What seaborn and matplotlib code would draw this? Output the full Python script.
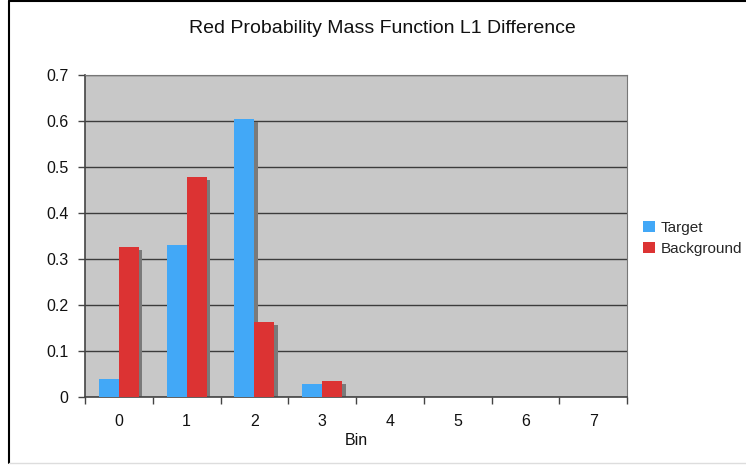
import numpy as np
import pandas as pd
import matplotlib
matplotlib.use("Agg")
import matplotlib.pyplot as plt
import matplotlib.transforms as mtransforms
from matplotlib.patches import Rectangle
from matplotlib.lines import Line2D
import seaborn as sns

bins = ["0", "1", "2", "3", "4", "5", "6", "7"]
target = [0.040, 0.330, 0.604, 0.028, 0.0, 0.0, 0.0, 0.0]
background = [0.327, 0.478, 0.163, 0.035, 0.0, 0.0, 0.0, 0.0]
series_names = ["Target", "Background"]
colors = ["#42a8f7", "#dc3333"]
yticks = [0, 0.1, 0.2, 0.3, 0.4, 0.5, 0.6, 0.7]
ytick_labels = ["0", "0.1", "0.2", "0.3", "0.4", "0.5", "0.6", "0.7"]

df = pd.DataFrame({
    "Bin": bins * 2,
    "value": target + background,
    "Series": [series_names[0]] * len(bins) + [series_names[1]] * len(bins),
})

sns.set_theme(style="white")
plt.rcParams["font.family"] = ["Liberation Sans", "DejaVu Sans"]

fig = plt.figure(figsize=(7.46, 4.67), dpi=100)
ax = fig.add_axes([0.114, 0.150, 0.7265, 0.6894])
ax.set_facecolor("#c8c8c8")

sns.barplot(data=df, x="Bin", y="value", hue="Series", order=bins,
            hue_order=series_names, palette=colors, width=0.59,
            saturation=1, ax=ax, zorder=3, legend=True)

# drop shadows offset to the right/down
offset = mtransforms.ScaledTranslation(3.5 / 100, -3 / 100, fig.dpi_scale_trans)
for p in list(ax.patches):
    if p.get_height() > 0:
        sh = Rectangle(p.get_xy(), p.get_width(), p.get_height(),
                       facecolor="#7a7a7a", edgecolor="none",
                       transform=ax.transData + offset, zorder=2.5)
        sh.set_clip_on(True)
        ax.add_patch(sh)
    p.set_edgecolor("none")

ax.set_xlim(-0.5, len(bins) - 0.5)
ax.set_ylim(0, 0.7)
ax.set_yticks(yticks)
ax.set_yticklabels(ytick_labels)
ax.yaxis.grid(True, color="#3c3c3c", linewidth=1.0, zorder=1)
ax.set_axisbelow(True)

# category boundaries as major ticks, labels at centers as minor
ax.set_xticks(np.arange(-0.5, len(bins), 1.0))
ax.set_xticklabels([])
ax.set_xticks(np.arange(len(bins)), minor=True)
ax.set_xticklabels(bins, minor=True)
ax.tick_params(axis="x", which="major", direction="out", length=5, width=1, color="#444444", bottom=True)
ax.tick_params(axis="x", which="minor", length=0, pad=12, labelsize=11.5, labelcolor="#111111")
ax.tick_params(axis="y", direction="out", length=5, width=1, color="#444444", left=True, labelsize=11.5, labelcolor="#111111", pad=7)

for s in ["left", "bottom"]:
    ax.spines[s].set_color("#444444")
    ax.spines[s].set_linewidth(1.2)
for s in ["right", "top"]:
    ax.spines[s].set_color("#777777")
    ax.spines[s].set_linewidth(0.8)

ax.set_xlabel("Bin", fontsize=11.5, color="#111111", labelpad=3)
ax.set_ylabel("")

fig.text(0.513, 0.94, "Red Probability Mass Function L1 Difference",
         ha="center", va="center", fontsize=14, color="#111111")

leg = ax.legend(loc="center left", bbox_to_anchor=(0.843, 0.49),
                bbox_transform=fig.transFigure, frameon=False,
                handlelength=0.8, handleheight=0.8, handletextpad=0.4,
                labelspacing=0.45, fontsize=11, title=None)

# outer frame (left/top in black, bottom light)
fig.add_artist(Line2D([9 / 746, 9 / 746], [0.008, 0.998], color="black", linewidth=1.5, transform=fig.transFigure))
fig.add_artist(Line2D([9 / 746, 1.0], [0.998, 0.998], color="black", linewidth=1.5, transform=fig.transFigure))
fig.add_artist(Line2D([9 / 746, 1.0], [0.008, 0.008], color="#dddddd", linewidth=1.0, transform=fig.transFigure))

fig.savefig("out.png", dpi=100)
